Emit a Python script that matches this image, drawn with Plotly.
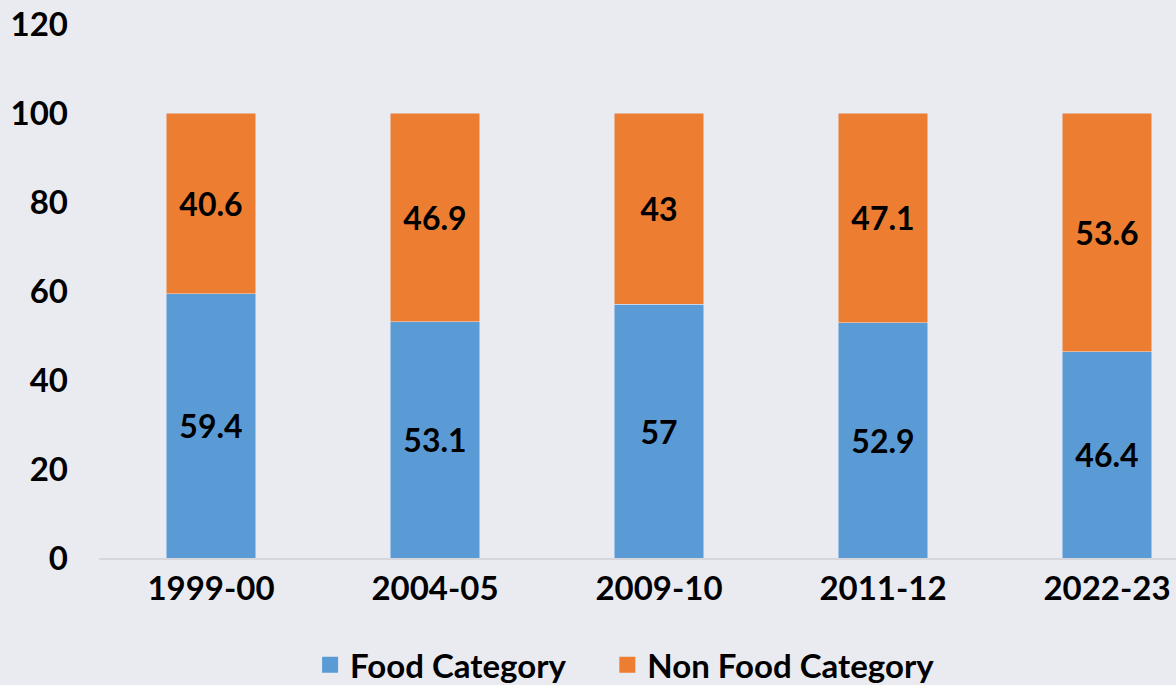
import plotly.graph_objects as go

years = ["1999-00", "2004-05", "2009-10", "2011-12", "2022-23"]
food = [59.4, 53.1, 57, 52.9, 46.4]
non_food = [40.6, 46.9, 43, 47.1, 53.6]
y_ticks = [0, 20, 40, 60, 80, 100, 120]

BLUE = "#5B9BD5"
ORANGE = "#ED7D31"
BG = "#EAEBF1"
FONT = "Lato"
FS_LABEL = 32
FS_TICK = 33
FS_LEG = 33
W = "bold"

fig = go.Figure()
fig.add_trace(go.Bar(
    x=years, y=food, name="Food Category", marker=dict(color=BLUE),
    text=[str(v) for v in food], textposition="inside", insidetextanchor="middle",
    textfont=dict(family=FONT, size=FS_LABEL, color="black", weight=W), showlegend=False,
    textangle=0,
))
fig.add_trace(go.Bar(
    x=years, y=non_food, name="Non Food Category", marker=dict(color=ORANGE),
    text=[str(v) for v in non_food], textposition="inside", insidetextanchor="middle",
    textfont=dict(family=FONT, size=FS_LABEL, color="black", weight=W), showlegend=False,
    textangle=0,
))
# legend entries (one legend box each, to match the spacing)
for name, col, leg in [("Food Category", BLUE, "legend"), ("Non Food Category", ORANGE, "legend2")]:
    fig.add_trace(go.Scatter(
        x=[years[0]], y=[None], mode="markers", name=name, legend=leg,
        marker=dict(symbol="square", size=20, color=col), showlegend=True,
    ))

leg_common = dict(orientation="h", y=-0.2, yanchor="middle", xanchor="left",
                  font=dict(family=FONT, size=FS_LEG, color="black", weight=W),
                  itemsizing="trace", bgcolor="rgba(0,0,0,0)")

fig.update_layout(
    width=1176, height=685,
    barmode="stack", bargap=0.6,
    paper_bgcolor=BG, plot_bgcolor=BG,
    margin=dict(l=99, r=0, t=24, b=127, autoexpand=False),
    font=dict(family=FONT, size=FS_TICK, color="black"),
    uniformtext=dict(minsize=FS_LABEL, mode="show"),
    legend=dict(x=0.196, **leg_common),
    legend2=dict(x=0.472, **leg_common),
    xaxis=dict(type="category", range=[-0.5, 4.308], showgrid=False, showline=True,
               linecolor="#D6D7DC", linewidth=2, automargin=False,
               tickfont=dict(family=FONT, size=FS_TICK, weight=W), ticks="",
               fixedrange=True),
    yaxis=dict(range=[0, 120], tickvals=y_ticks, showgrid=False, zeroline=False,
               showline=False, automargin=False,
               tickfont=dict(family=FONT, size=FS_TICK, weight=W),
               ticklabelstandoff=30, fixedrange=True),
)

fig.write_html(
    "out.html",
    config={"displayModeBar": False},
    post_script="document.body.style.margin='0';document.body.style.overflow='hidden';",
)
